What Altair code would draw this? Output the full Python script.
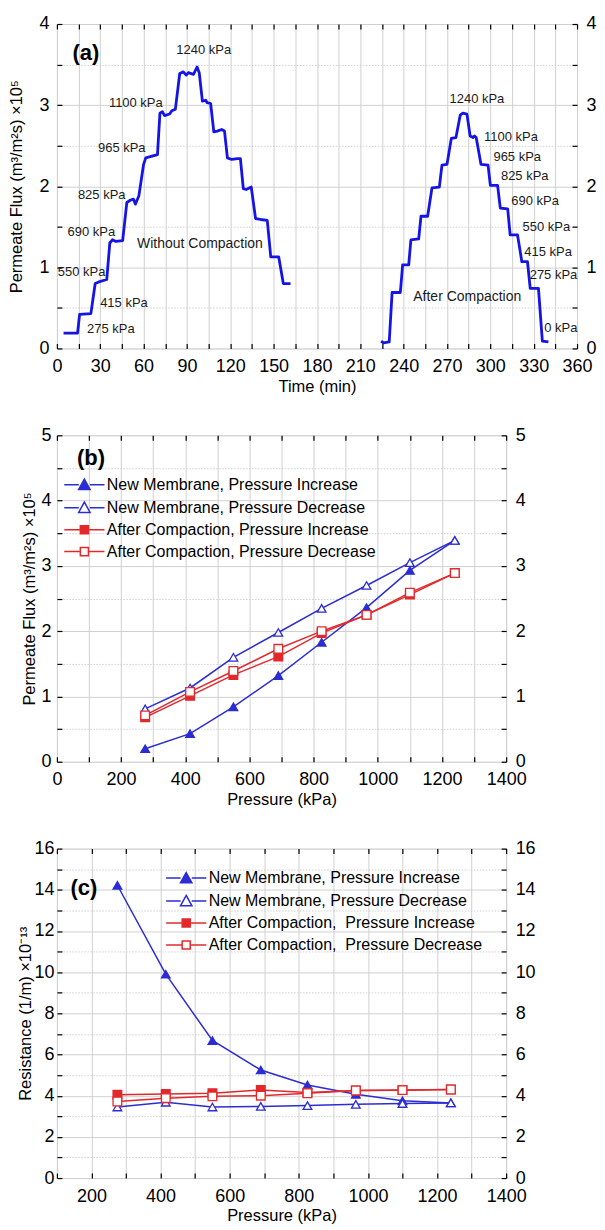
import altair as alt
import pandas as pd

FONT = "Liberation Sans"
BLUE_A = "#1414e6"
BLUE = "#2c2cd4"
RED = "#e3282c"
GRID = "#d0d0d0"
TICK = 5

# ---------------- panel (a): flux vs time ----------------
t_without = [4.6, 14.3, 15.7, 23.5, 26.5, 29.0, 34.5, 36.6, 38.5, 40.8, 45.5, 48.4, 51.0, 53.0, 54.3,
             56.7, 60.0, 61.5, 69.6, 71.3, 73.0, 74.5, 78.0, 79.5, 82.0, 85.0, 87.5, 89.5, 91.0, 94.5,
             97.0, 98.5, 100.7, 103.0, 104.0, 106.4, 108.6, 111.0, 114.0, 116.0, 118.0, 121.0, 125.0,
             127.0, 129.0, 131.0, 134.5, 137.5, 141.0, 145.6, 148.0, 153.5, 156.7, 161.7]
flux_without = [0.19, 0.19, 0.42, 0.43, 0.80, 0.82, 0.85, 1.30, 1.34, 1.32, 1.33, 1.80, 1.83, 1.84, 1.78,
                1.88, 2.27, 2.35, 2.39, 2.90, 2.92, 2.87, 2.89, 2.93, 2.95, 3.39, 3.41, 3.37, 3.40, 3.38,
                3.47, 3.40, 3.05, 3.06, 3.03, 3.02, 2.67, 2.68, 2.70, 2.68, 2.35, 2.33, 2.34,
                2.34, 1.97, 1.96, 1.99, 1.60, 1.59, 1.58, 1.13, 1.13, 0.80, 0.80]
t_after = [224.4, 226.0, 230.0, 232.0, 237.7, 239.3, 243.5, 245.0, 250.4, 252.0, 256.6, 259.6, 264.7,
           266.5, 270.0, 273.0, 276.2, 279.2, 281.0, 283.8, 286.0, 288.0, 289.0, 290.2, 293.5, 298.4,
           300.0, 305.0, 306.9, 312.0, 313.7, 318.8, 321.8, 325.7, 327.6, 333.3, 336.0, 340.2]
flux_after = [0.09, 0.07, 0.08, 0.69, 0.69, 1.03, 1.03, 1.34, 1.35, 1.63, 1.63, 1.98, 1.99,
              2.26, 2.27, 2.59, 2.60, 2.88, 2.90, 2.89, 2.62, 2.60, 2.62, 2.60, 2.27, 2.26,
              2.01, 2.01, 1.73, 1.72, 1.40, 1.40, 1.07, 1.07, 0.74, 0.74, 0.09, 0.08]
run_names = ["Without Compaction", "After Compaction"]

ann_a_text = ["1240 kPa", "1100 kPa", "965 kPa", "825 kPa", "690 kPa", "550 kPa", "415 kPa", "275 kPa",
              "Without Compaction",
              "1240 kPa", "1100 kPa", "965 kPa", "825 kPa", "690 kPa", "550 kPa", "415 kPa", "275 kPa",
              "0 kPa", "After Compaction"]
ann_a_t = [101.6, 54.6, 44.9, 31.0, 23.8, 17.1, 46.4, 37.3, 99.0,
           290.7, 314.3, 318.6, 323.8, 331.0, 338.8, 340.0, 343.7, 348.8, 284.0]
ann_a_y = [3.68, 3.02, 2.47, 1.89, 1.43, 0.94, 0.56, 0.24, 1.29,
           3.07, 2.61, 2.36, 2.12, 1.82, 1.50, 1.19, 0.90, 0.25, 0.64]

# ---------------- panels (b), (c): vs pressure ----------------
pressures = [275, 415, 550, 690, 825, 965, 1100, 1240]
flux_new_inc = [0.20, 0.43, 0.84, 1.32, 1.83, 2.36, 2.93, 3.39]
flux_new_dec = [0.81, 1.13, 1.60, 1.98, 2.35, 2.70, 3.05, 3.39]
flux_comp_inc = [0.68, 1.01, 1.33, 1.61, 1.97, 2.25, 2.56, 2.89]
flux_comp_dec = [0.71, 1.07, 1.39, 1.73, 2.00, 2.25, 2.59, 2.89]

res_new_inc = [14.22, 9.90, 6.68, 5.25, 4.52, 4.07, 3.75, 3.65]
res_new_dec = [3.45, 3.68, 3.45, 3.48, 3.52, 3.58, 3.62, 3.65]
res_comp_inc = [4.05, 4.08, 4.12, 4.28, 4.15, 4.25, 4.28, 4.30]
res_comp_dec = [3.72, 3.88, 3.97, 4.00, 4.12, 4.25, 4.27, 4.30]

series_b = ["New Membrane, Pressure Increase", "New Membrane, Pressure Decrease",
            "After Compaction, Pressure Increase", "After Compaction, Pressure Decrease"]
series_c = ["New Membrane, Pressure Increase", "New Membrane, Pressure Decrease",
            "After Compaction,\u00a0 Pressure Increase", "After Compaction,\u00a0 Pressure Decrease"]

tag_text = ["(a)", "(b)", "(c)"]
tag_x = [20, 106, 178]
tag_y = [3.64, 4.65, 14.1]

STROKES = [BLUE, BLUE, RED, RED]
FILLS = [BLUE, "white", RED, "white"]
SHAPES = ["triangle-up", "triangle-up", "square", "square"]
TRI = "M-2.6,0H-0.72M0.72,0H2.6M0,-0.72L0.74,0.62L-0.74,0.62Z"
SQR = "M-2.6,0H-0.52M0.52,0H2.6M-0.52,-0.52H0.52V0.52H-0.52Z"
LEG_SHAPES = [TRI, TRI, SQR, SQR]


def axis(orient, values, label_step=None, dash_test=None, grid=False, title=None, label_pad=8,
         title_pad=6, z=0):
    kw = dict(orient=orient, values=values, tickSize=TICK, offset=-TICK, domain=False, ticks=True,
              tickColor="black", tickWidth=1.2, tickOpacity=1, labelOverlap=False, labelFlush=False,
              labelFont=FONT, labelFontSize=18, labelColor="black", labelPadding=label_pad,
              titleFont=FONT, titleFontSize=16.5, titleColor="black", titleFontWeight="normal",
              titlePadding=title_pad, grid=grid, title=title, zindex=z)
    if label_step is None:
        kw["labels"] = False
    else:
        kw["labelExpr"] = f"abs(datum.value % {label_step}) < 1e-6 ? '' + datum.value : ''"
    if grid:
        kw["gridColor"] = GRID
        kw["gridWidth"] = 1
        kw["gridOpacity"] = 1
        if dash_test:
            kw["gridDash"] = {"condition": {"test": dash_test, "value": [1.5, 1.5]}, "value": []}
    return alt.Axis(**kw)


def tag_layer(i, xs, ys):
    df = pd.DataFrame({"tag": [tag_text[i]], "x": [tag_x[i]], "y": [tag_y[i]]})
    return alt.Chart(df).mark_text(font=FONT, fontSize=22, fontWeight="bold", color="black").encode(
        x=alt.X("x:Q", scale=xs, axis=None), y=alt.Y("y:Q", scale=ys, axis=None), text="tag:N")


# ---- panel (a) ----
df_a = pd.DataFrame({
    "t": t_without + t_after,
    "flux": flux_without + flux_after,
    "run": [run_names[0]] * len(t_without) + [run_names[1]] * len(t_after),
})
xs_a = alt.Scale(domain=[0, 360], nice=False, zero=False)
ys_a = alt.Scale(domain=[0, 4], nice=False)
xv_a = list(range(0, 361, 15))
yv_a = [i * 0.5 for i in range(9)]

line_a = alt.Chart(df_a).mark_line(color=BLUE_A, strokeWidth=2.8, strokeJoin="round").encode(
    x=alt.X("t:Q", scale=xs_a, axis=axis("bottom", xv_a, 30, grid=True, title="Time (min)",
                                         label_pad=9, title_pad=3)),
    y=alt.Y("flux:Q", scale=ys_a,
            axis=axis("left", yv_a, 1, dash_test="datum.value % 1 !== 0", grid=True,
                      title="Permeate Flux (m³/m²s) ×10⁵", label_pad=8, title_pad=14)),
    detail="run:N",
)
mirror_a = alt.Chart(df_a).mark_point(opacity=0).encode(
    x=alt.X("t:Q", scale=xs_a, axis=axis("top", xv_a, z=1)),
    y=alt.Y("flux:Q", scale=ys_a, axis=axis("right", yv_a, 1, label_pad=9, z=1)),
)
ann_df = pd.DataFrame({"label": ann_a_text, "t": ann_a_t, "y": ann_a_y})
text_a = alt.Chart(ann_df).mark_text(font=FONT, fontSize=13, color="#1a1a1a").encode(
    x=alt.X("t:Q", scale=xs_a, axis=None),
    y=alt.Y("y:Q", scale=ys_a, axis=None),
    text="label:N",
    size=alt.condition("datum.label == 'Without Compaction' || datum.label == 'After Compaction'",
                       alt.value(14), alt.value(13)),
)
panel_a = alt.layer(line_a, mirror_a, text_a, tag_layer(0, xs_a, ys_a)).resolve_axis(
    x="independent", y="independent").properties(width=521, height=325)


def pressure_panel(idx, series, vals, xs, ys, xv, yv, ylab_step, dash_test, ytitle, leg_x, leg_y,
                   width, height, ylabel_pad, ytitle_pad):
    df = pd.DataFrame({
        "p": pressures * 4,
        "v": [v for arr in vals for v in arr],
        "s": [s for s in series for _ in pressures],
    })
    col = alt.Scale(domain=series, range=STROKES)
    fil = alt.Scale(domain=series, range=FILLS)
    lines = alt.Chart(df).mark_line(strokeWidth=1.5).encode(
        x=alt.X("p:Q", scale=xs, axis=axis("bottom", xv, 200, grid=True, title="Pressure (kPa)",
                                           label_pad=9, title_pad=3)),
        y=alt.Y("v:Q", scale=ys, axis=axis("left", yv, ylab_step, dash_test=dash_test, grid=True,
                                           title=ytitle, label_pad=ylabel_pad, title_pad=ytitle_pad)),
        color=alt.Color("s:N", scale=col, legend=None),
    )
    pts = alt.Chart(df).mark_point(size=75, strokeWidth=1.3, opacity=1, fillOpacity=1).encode(
        x=alt.X("p:Q", scale=xs, axis=axis("top", xv, z=1)),
        y=alt.Y("v:Q", scale=ys, axis=axis("right", yv, ylab_step, label_pad=9, z=1)),
        color=alt.Color("s:N", scale=col, legend=None),
        fill=alt.Fill("s:N", scale=fil, legend=None),
        shape=alt.Shape("s:N", scale=alt.Scale(domain=series, range=SHAPES), legend=None),
    )
    leg = alt.Legend(orient="none", legendX=leg_x, legendY=leg_y, title=None, padding=0,
                     labelFont=FONT, labelFontSize=16, labelColor="black", labelOffset=14,
                     symbolSize=240, symbolStrokeWidth=1.5, symbolFillColor="white", rowPadding=5,
                     labelLimit=400)
    legend_layer = alt.Chart(df).transform_filter("false").mark_point(
        size=240, strokeWidth=1.5, opacity=1).encode(
        x=alt.X("p:Q", scale=xs, axis=None),
        y=alt.Y("v:Q", scale=ys, axis=None),
        color=alt.Color("s:N", scale=alt.Scale(domain=series, range=STROKES), legend=leg),
        fill=alt.Fill("s:N", scale=alt.Scale(domain=series, range=FILLS), legend=leg),
        shape=alt.Shape("s:N", scale=alt.Scale(domain=series, range=LEG_SHAPES), legend=leg),
    )
    return alt.layer(lines, pts, legend_layer, tag_layer(idx, xs, ys)).resolve_axis(
        x="independent", y="independent").resolve_scale(
        color="independent", fill="independent", shape="independent").properties(width=width, height=height)


panel_b = pressure_panel(
    1, series_b, [flux_new_inc, flux_new_dec, flux_comp_inc, flux_comp_dec],
    alt.Scale(domain=[0, 1400], nice=False, zero=False), alt.Scale(domain=[0, 5], nice=False),
    list(range(0, 1401, 100)), [i * 0.5 for i in range(11)], 1, "datum.value % 1 !== 0",
    "Permeate Flux (m³/m²s) ×10⁵", 19, 41, 450, 327, 6, 3)

panel_c = pressure_panel(
    2, series_c, [res_new_inc, res_new_dec, res_comp_inc, res_comp_dec],
    alt.Scale(domain=[100, 1400], nice=False, zero=False), alt.Scale(domain=[0, 16], nice=False),
    list(range(100, 1401, 100)), list(range(0, 17)), 2, "datum.value % 2 !== 0",
    "Resistance (1/m) ×10⁻¹³", 121, 21, 450, 330, 3, 0)

chart = alt.ConcatChart(
    concat=[panel_a, panel_b, panel_c], columns=1, spacing=30, align="none",
    padding={"left": 0, "top": 5, "right": 0, "bottom": 0},
).configure_view(stroke="black", strokeWidth=1.5).configure(background="white")

chart.save("out.html", embed_options={"renderer": "svg", "actions": False})
